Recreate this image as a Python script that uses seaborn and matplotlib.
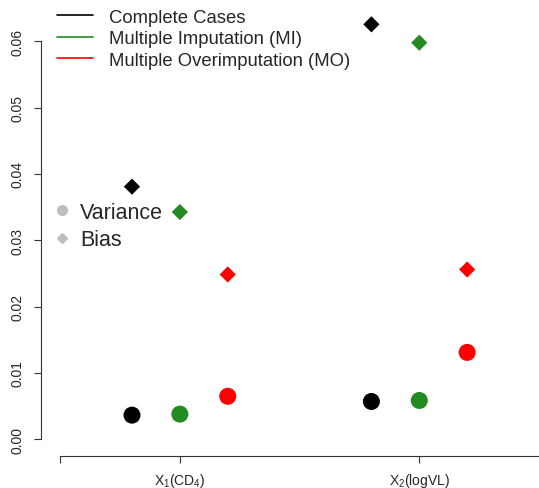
import numpy as np
import pandas as pd
import seaborn as sns
import matplotlib.pyplot as plt
from matplotlib.lines import Line2D

# values
methods = ['Complete Cases', 'Multiple Imputation (MI)', 'Multiple Overimputation (MO)']
variables = ['X1', 'X2']
variance_x1 = [0.00362, 0.00377, 0.00646]
variance_x2 = [0.00568, 0.00583, 0.01308]
bias_x1 = [0.03808, 0.03425, 0.02483]
bias_x2 = [0.06256, 0.05979, 0.02558]
tick_labels = ['', r'X$_1$(CD$_4$)', r'X$_2$(logVL)']

colors = ['black', '#228B22', 'red']
var_pos = {'X1': 1.0, 'X2': 2.0}
dodge = [-0.2, 0.0, 0.2]

rows = []
for v, var_vals, bias_vals in [('X1', variance_x1, bias_x1), ('X2', variance_x2, bias_x2)]:
    for i, m in enumerate(methods):
        rows.append({'method': m, 'variable': v, 'measure': 'Variance',
                     'value': var_vals[i], 'x': var_pos[v] + dodge[i]})
        rows.append({'method': m, 'variable': v, 'measure': 'Bias',
                     'value': bias_vals[i], 'x': var_pos[v] + dodge[i]})
df = pd.DataFrame(rows)

sns.set_style('white')
plt.rcParams['font.family'] = ['Liberation Sans', 'DejaVu Sans']
plt.rcParams['mathtext.fontset'] = 'custom'
plt.rcParams['mathtext.rm'] = 'Liberation Sans'
plt.rcParams['mathtext.it'] = 'Liberation Sans'

W, H = 539, 489
fig = plt.figure(figsize=(W / 100, H / 100), dpi=100)
ax = fig.add_axes([41 / W, 1 - 456.7 / H, 1 - 41 / W, (456.7 - 8.5) / H])

palette = dict(zip(methods, colors))
sns.scatterplot(data=df[df.measure == 'Variance'], x='x', y='value', hue='method',
                palette=palette, marker='o', s=150, linewidth=0, ax=ax, legend=False)
sns.scatterplot(data=df[df.measure == 'Bias'], x='x', y='value', hue='method',
                palette=palette, marker='D', s=68, linewidth=0, ax=ax, legend=False)

ax.set_xlim(0.42, 2.5)
ax.set_ylim(-0.0025, 0.0651)
ax.set_xlabel('')
ax.set_ylabel('')

for s in ['top', 'right']:
    ax.spines[s].set_visible(False)
ax.spines['left'].set_bounds(0, 0.06)
ax.spines['bottom'].set_bounds(0.5, 2.5)
for s in ['left', 'bottom']:
    ax.spines[s].set_linewidth(0.8)
    ax.spines[s].set_color('#333333')

ax.set_yticks([0, 0.01, 0.02, 0.03, 0.04, 0.05, 0.06])
ax.set_yticklabels(['0.00', '0.01', '0.02', '0.03', '0.04', '0.05', '0.06'],
                   rotation=90, va='center', fontsize=10)
ax.set_xticks([0.5, 1, 2])
ax.set_xticklabels(tick_labels, fontsize=10)
ax.tick_params(axis='both', direction='out', length=5, width=0.8, color='#333333',
               left=True, bottom=True)
ax.tick_params(axis='y', pad=7)
ax.tick_params(axis='x', pad=6)

h1 = [Line2D([0], [0], color=c, lw=1.2) for c in colors]
leg1 = ax.legend(h1, methods, loc='upper left', bbox_to_anchor=(57 / W, 1 - 9.5 / H),
                 bbox_transform=fig.transFigure, frameon=False, fontsize=13.3,
                 handlelength=1.95, handletextpad=0.85, labelspacing=0.25,
                 borderpad=0, borderaxespad=0)
ax.add_artist(leg1)

h2 = [Line2D([0], [0], marker='o', color='#BEBEBE', lw=0, markersize=7),
      Line2D([0], [0], marker='D', color='#BEBEBE', lw=0, markersize=5)]
ax.legend(h2, ['Variance', 'Bias'], loc='upper left', bbox_to_anchor=(53 / W, 1 - 203 / H),
          bbox_transform=fig.transFigure, frameon=False, fontsize=15.5,
          handlelength=0.8, handletextpad=0.45, labelspacing=0.3,
          borderpad=0, borderaxespad=0)

fig.savefig('out.png', dpi=100)
